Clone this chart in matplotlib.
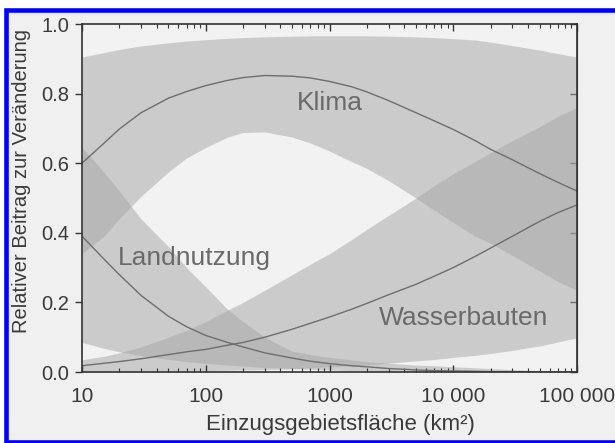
import numpy as np
import matplotlib
matplotlib.use("Agg")
from matplotlib import pyplot as plt
from matplotlib.patches import Rectangle

plt.rcParams['font.family'] = ['Liberation Sans', 'DejaVu Sans']

# Einzugsgebietsfläche (km²)
area = [10, 15, 20, 30, 50, 70, 100, 150, 200, 300, 500, 700, 1000, 1500, 2000,
        3000, 5000, 7000, 10000, 15000, 20000, 30000, 50000, 70000, 100000]

# Klima: Linie, obere und untere Grenze
klima_mid = [0.600, 0.657, 0.698, 0.745, 0.787, 0.806, 0.823, 0.838, 0.846, 0.852, 0.850, 0.845, 0.835,
             0.820, 0.805, 0.780, 0.745, 0.722, 0.697, 0.665, 0.640, 0.610, 0.570, 0.545, 0.520]
klima_hi = [0.905, 0.918, 0.927, 0.937, 0.946, 0.951, 0.955, 0.959, 0.961, 0.963, 0.965, 0.966, 0.966,
            0.966, 0.966, 0.965, 0.963, 0.961, 0.958, 0.954, 0.948, 0.938, 0.925, 0.915, 0.905]
klima_lo = [0.340, 0.390, 0.440, 0.505, 0.575, 0.615, 0.645, 0.675, 0.688, 0.690, 0.675, 0.658, 0.635,
            0.605, 0.585, 0.550, 0.500, 0.465, 0.430, 0.390, 0.370, 0.335, 0.290, 0.260, 0.235]

# Landnutzung
land_mid = [0.390, 0.325, 0.280, 0.220, 0.160, 0.130, 0.105, 0.085, 0.072, 0.055, 0.040, 0.031, 0.024,
            0.018, 0.015, 0.010, 0.006, 0.004, 0.003, 0.002, 0.001, 0.001, 0.0, 0.0, 0.0]
land_hi = [0.645, 0.575, 0.520, 0.440, 0.360, 0.300, 0.245, 0.180, 0.145, 0.100, 0.060, 0.050, 0.042,
           0.035, 0.030, 0.025, 0.020, 0.018, 0.015, 0.012, 0.010, 0.007, 0.004, 0.002, 0.0]
land_lo = [0.085, 0.068, 0.058, 0.047, 0.036, 0.030, 0.025, 0.020, 0.017, 0.013, 0.010, 0.008, 0.006,
           0.004, 0.003, 0.002, 0.001, 0.001, 0.0, 0.0, 0.0, 0.0, 0.0, 0.0, 0.0]

# Wasserbauten
wasser_mid = [0.018, 0.025, 0.030, 0.038, 0.050, 0.058, 0.065, 0.077, 0.085, 0.100, 0.123, 0.140, 0.158,
              0.180, 0.197, 0.222, 0.252, 0.275, 0.300, 0.332, 0.356, 0.390, 0.433, 0.458, 0.480]
wasser_hi = [0.035, 0.045, 0.055, 0.072, 0.100, 0.120, 0.145, 0.178, 0.200, 0.235, 0.280, 0.310, 0.340,
             0.380, 0.410, 0.450, 0.500, 0.535, 0.570, 0.605, 0.630, 0.665, 0.705, 0.735, 0.760]
wasser_lo = [0.0, 0.001, 0.002, 0.002, 0.003, 0.003, 0.004, 0.005, 0.006, 0.007, 0.009, 0.012, 0.015,
             0.018, 0.020, 0.025, 0.032, 0.036, 0.042, 0.048, 0.053, 0.062, 0.075, 0.086, 0.098]

xticks = [10, 100, 1000, 10000, 100000]
xticklabels = ['10', '100', '1000', '10 000', '100 000']
yticks = [0.0, 0.2, 0.4, 0.6, 0.8, 1.0]

band_col = '#a6a6a6'
line_col = '#6e6e6e'
text_col = '#3a3a3a'

fig = plt.figure(figsize=(6.15, 4.43), dpi=100)
fig.patch.set_facecolor('white')
# blauer Rahmen
fig.patches.append(Rectangle((5.5 / 615, 1.5 / 443), 640 / 615, 432 / 443,
                             transform=fig.transFigure, facecolor='#f0f0f0',
                             edgecolor='#0000ff', linewidth=3.3, zorder=-5))

ax = fig.add_axes([82 / 615, 1 - 372 / 443, 495 / 615, 348 / 443])
ax.set_facecolor('#f2f2f2')

for lo, hi in [(klima_lo, klima_hi), (land_lo, land_hi), (wasser_lo, wasser_hi)]:
    ax.fill_between(area, lo, hi, color=band_col, alpha=0.5, linewidth=0)

for mid in [klima_mid, land_mid, wasser_mid]:
    ax.plot(area, mid, color=line_col, linewidth=1.0)

ax.text(1000, 0.773, 'Klima', fontsize=19, color='#6a6a6a', ha='center', va='center')
ax.text(81, 0.327, 'Landnutzung', fontsize=19, color='#6a6a6a', ha='center', va='center')
ax.text(12100, 0.155, 'Wasserbauten', fontsize=19, color='#6a6a6a', ha='center', va='center')

ax.set_xscale('log')
ax.set_xlim(10, 100000)
ax.set_ylim(0, 1)
ax.set_xticks(xticks)
ax.set_xticklabels(xticklabels)
ax.set_yticks(yticks)
ax.set_yticklabels([f'{v:.1f}' for v in yticks])

ax.tick_params(axis='x', which='both', direction='in', top=True, colors='#333333',
               labelsize=15, pad=11, labelcolor=text_col)
ax.tick_params(axis='x', which='major', length=5, width=1)
ax.tick_params(axis='x', which='minor', length=3, width=0.8)
ax.tick_params(axis='y', direction='out', length=5, width=1, colors='#333333',
               labelsize=14.5, pad=4, labelcolor=text_col)

sec = ax.secondary_yaxis('right')
sec.set_yticks(yticks)
sec.tick_params(direction='in', length=5, width=1, colors='#333333', labelright=False)
sec.spines['right'].set_color('#333333')

for s in ax.spines.values():
    s.set_color('#333333')
    s.set_linewidth(1.2)

ax.set_xlabel('Einzugsgebietsfläche (km²)', fontsize=16, color=text_col)
ax.set_ylabel('Relativer Beitrag zur Veränderung', fontsize=14.5, color=text_col)
ax.xaxis.set_label_coords(0.523, -0.122)
ax.yaxis.set_label_coords(-0.103, 0.549)

plt.savefig('out.png', dpi=100)
